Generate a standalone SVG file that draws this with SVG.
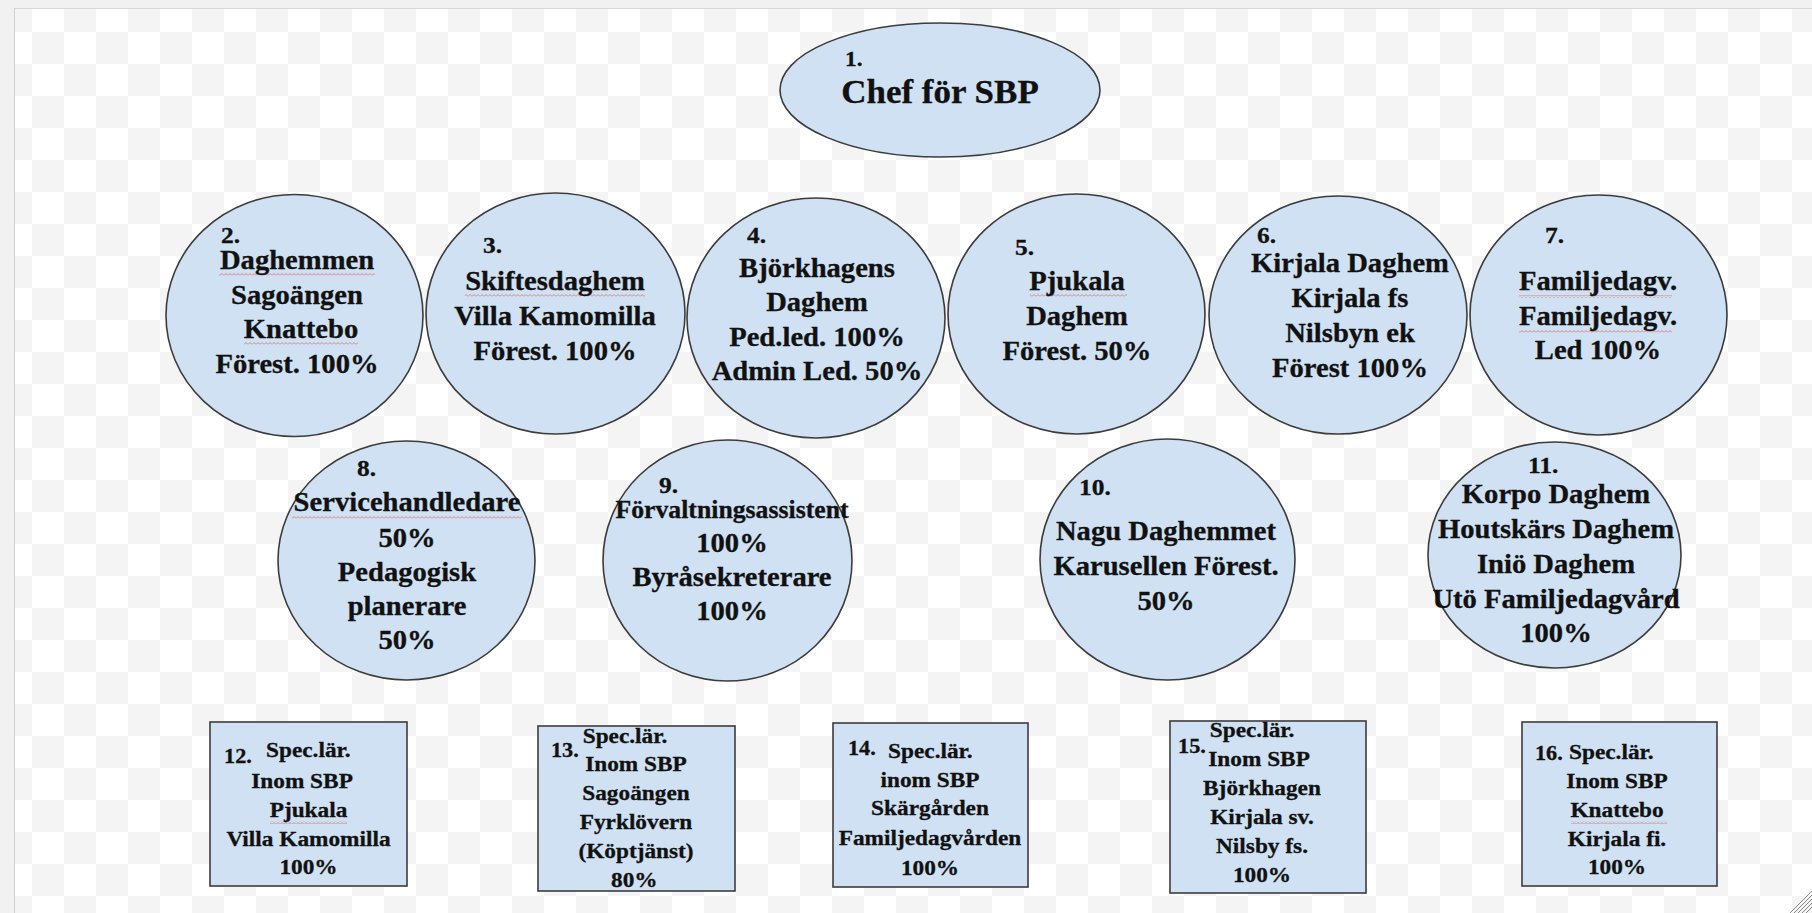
<svg xmlns="http://www.w3.org/2000/svg" width="1812" height="913" viewBox="0 0 1812 913">
<style>
.node{fill:#cfe1f2;stroke:#3c3c3c;stroke-width:1.6}
.t{font-family:"Liberation Serif","Times New Roman",serif;font-weight:bold;fill:#111;stroke:#111;stroke-width:0.3;text-anchor:middle}
.s{text-anchor:start}
.c{font-size:27px}
.b{font-size:22px}
.n{font-size:24px}
.bn{font-size:21px}
.sq{fill:url(#squig)}
</style>
<defs>
<pattern id="checker" width="64" height="64" patternUnits="userSpaceOnUse">
<rect width="64" height="64" fill="#ffffff"/>
<rect width="32" height="32" fill="#f4f4f4"/>
<rect x="32" y="32" width="32" height="32" fill="#f4f4f4"/>
</pattern>
<pattern id="squig" width="4" height="3" patternUnits="userSpaceOnUse">
<path d="M0 2.5 L2 0.5 L4 2.5" fill="none" stroke="#e06a6a" stroke-width="0.8"/>
</pattern>
</defs>
<rect width="1812" height="913" fill="url(#checker)"/>
<rect x="0" y="0" width="1812" height="8" fill="#f1f1f1"/>
<line x1="14" y1="8.5" x2="1812" y2="8.5" stroke="#d9d9d9"/>
<rect x="0" y="0" width="14" height="913" fill="#f1f1f1"/>
<line x1="14.5" y1="8" x2="14.5" y2="913" stroke="#cfcfcf"/>
<g stroke="#8a8a8a" stroke-width="1">
<line x1="1790" y1="913" x2="1812" y2="891"/>
<line x1="1794" y1="913" x2="1812" y2="895"/>
<line x1="1798" y1="913" x2="1812" y2="899"/>
<line x1="1802" y1="913" x2="1812" y2="903"/>
<line x1="1806" y1="913" x2="1812" y2="907"/>
</g>

<g id="connectors"></g>

<g id="n1">
<ellipse class="node" cx="940" cy="90" rx="160" ry="67"/>
<g transform="translate(940 0) scale(1.06 1)">
<text class="t s" x="-89.6" y="66" font-size="22">1.</text>
<text class="t" x="0" y="103" font-size="33">Chef för SBP</text>
</g>
</g>

<g id="n2">
<ellipse class="node" cx="294.5" cy="315.5" rx="128.5" ry="121"/>
<rect class="sq" x="219" y="273" width="156" height="3"/>
<rect class="sq" x="244" y="342" width="114" height="3"/>
<g transform="translate(297 0) scale(1.06 1)">
<text class="t s n" x="-71.7" y="243">2.</text>
<text class="t c" x="0" y="269">Daghemmen</text>
<text class="t c" x="0" y="304">Sagoängen</text>
<text class="t c" x="3.8" y="338">Knattebo</text>
<text class="t c" x="0" y="373">Förest. 100%</text>
</g>
</g>

<g id="n3">
<ellipse class="node" cx="555.5" cy="313.5" rx="129.5" ry="120.5"/>
<rect class="sq" x="465" y="294" width="180" height="3"/>
<g transform="translate(555 0) scale(1.06 1)">
<text class="t s n" x="-67.9" y="253">3.</text>
<text class="t c" x="0" y="290">Skiftesdaghem</text>
<text class="t c" x="0" y="325">Villa Kamomilla</text>
<text class="t c" x="0" y="360">Förest. 100%</text>
</g>
</g>

<g id="n4">
<ellipse class="node" cx="816" cy="318" rx="129" ry="120"/>
<g transform="translate(817 0) scale(1.06 1)">
<text class="t s n" x="-66" y="243">4.</text>
<text class="t c" x="0" y="277">Björkhagens</text>
<text class="t c" x="0" y="311.5">Daghem</text>
<text class="t c" x="0" y="346">Ped.led. 100%</text>
<text class="t c" x="0" y="380.5">Admin Led. 50%</text>
</g>
</g>

<g id="n5">
<ellipse class="node" cx="1076.5" cy="314" rx="128.5" ry="120"/>
<rect class="sq" x="1030" y="294" width="97" height="3"/>
<g transform="translate(1077 0) scale(1.06 1)">
<text class="t s n" x="-58.5" y="255">5.</text>
<text class="t c" x="0" y="290">Pjukala</text>
<text class="t c" x="0" y="325">Daghem</text>
<text class="t c" x="0" y="360">Förest. 50%</text>
</g>
</g>

<g id="n6">
<ellipse class="node" cx="1338" cy="315" rx="129" ry="119"/>
<g transform="translate(1350 0) scale(1.06 1)">
<text class="t s n" x="-87.7" y="243">6.</text>
<text class="t c" x="0" y="272">Kirjala Daghem</text>
<text class="t c" x="0" y="307">Kirjala fs</text>
<text class="t c" x="0" y="342">Nilsbyn ek</text>
<text class="t c" x="0" y="377">Förest 100%</text>
</g>
</g>

<g id="n7">
<ellipse class="node" cx="1598.5" cy="315" rx="128.5" ry="120"/>
<rect class="sq" x="1519" y="295" width="153" height="3"/>
<rect class="sq" x="1519" y="330" width="153" height="3"/>
<g transform="translate(1598 0) scale(1.06 1)">
<text class="t s n" x="-50" y="243">7.</text>
<text class="t c" x="0" y="290">Familjedagv.</text>
<text class="t c" x="0" y="325">Familjedagv.</text>
<text class="t c" x="0" y="359">Led 100%</text>
</g>
</g>

<g id="n8">
<ellipse class="node" cx="406.5" cy="560.5" rx="128.5" ry="119.5"/>
<rect class="sq" x="292" y="516" width="230" height="3"/>
<g transform="translate(407 0) scale(1.06 1)">
<text class="t s n" x="-47.2" y="476">8.</text>
<text class="t c" x="0" y="511">Servicehandledare</text>
<text class="t c" x="0" y="547">50%</text>
<text class="t c" x="0" y="581">Pedagogisk</text>
<text class="t c" x="0" y="615">planerare</text>
<text class="t c" x="0" y="649">50%</text>
</g>
</g>

<g id="n9">
<ellipse class="node" cx="727.5" cy="560.5" rx="124.5" ry="120.5"/>
<g transform="translate(732 0) scale(1.06 1)">
<text class="t s n" x="-68.9" y="493">9.</text>
<text class="t" x="0" y="518" font-size="24.3">Förvaltningsassistent</text>
<text class="t c" x="0" y="552">100%</text>
<text class="t c" x="0" y="586">Byråsekreterare</text>
<text class="t c" x="0" y="620">100%</text>
</g>
</g>

<g id="n10">
<ellipse class="node" cx="1167.5" cy="559.5" rx="127.5" ry="120.5"/>
<g transform="translate(1166 0) scale(1.06 1)">
<text class="t s n" x="-82" y="495">10.</text>
<text class="t c" x="0" y="540">Nagu Daghemmet</text>
<text class="t c" x="0" y="575">Karusellen Förest.</text>
<text class="t c" x="0" y="610">50%</text>
</g>
</g>

<g id="n11">
<ellipse class="node" cx="1554.5" cy="555" rx="126.5" ry="113"/>
<g transform="translate(1556 0) scale(1.06 1)">
<text class="t s n" x="-26.4" y="473">11.</text>
<text class="t c" x="0" y="503">Korpo Daghem</text>
<text class="t c" x="0" y="538">Houtskärs Daghem</text>
<text class="t c" x="0" y="573">Iniö Daghem</text>
<text class="t c" x="0" y="608">Utö Familjedagvård</text>
<text class="t c" x="0" y="642">100%</text>
</g>
</g>

<g id="n12">
<rect class="node" x="210" y="722" width="197" height="164"/>
<rect class="sq" x="270" y="821" width="77" height="3"/>
<g transform="translate(308.5 0) scale(1.06 1)">
<text class="t s bn" x="-79.7" y="763">12.</text>
<text class="t s b" x="-40.1" y="757">Spec.lär.</text>
<text class="t b" x="-6.1" y="788">Inom SBP</text>
<text class="t b" x="0" y="817">Pjukala</text>
<text class="t b" x="0" y="846">Villa Kamomilla</text>
<text class="t b" x="0" y="874">100%</text>
</g>
</g>

<g id="n13">
<rect class="node" x="538" y="726" width="197" height="165"/>
<g transform="translate(636 0) scale(1.06 1)">
<text class="t b" x="-10.4" y="743">Spec.lär.</text>
<text class="t s bn" x="-80.2" y="757">13.</text>
<text class="t b" x="0" y="771">Inom SBP</text>
<text class="t b" x="0" y="800">Sagoängen</text>
<text class="t b" x="0" y="829">Fyrklövern</text>
<text class="t b" x="0" y="858">(Köptjänst)</text>
<text class="t b" x="-1.6" y="887">80%</text>
</g>
</g>

<g id="n14">
<rect class="node" x="833" y="723" width="195" height="164"/>
<g transform="translate(930 0) scale(1.06 1)">
<text class="t s bn" x="-77.4" y="755">14.</text>
<text class="t s b" x="-39.6" y="758">Spec.lär.</text>
<text class="t b" x="0" y="787">inom SBP</text>
<text class="t b" x="0" y="815">Skärgården</text>
<text class="t b" x="0" y="845">Familjedagvården</text>
<text class="t b" x="0" y="875">100%</text>
</g>
</g>

<g id="n15">
<rect class="node" x="1170" y="721" width="196" height="172"/>
<g transform="translate(1262 0) scale(1.06 1)">
<text class="t b" x="-9.4" y="737">Spec.lär.</text>
<text class="t s bn" x="-79.2" y="753">15.</text>
<text class="t b" x="-2.8" y="766">Inom SBP</text>
<text class="t b" x="0" y="795">Björkhagen</text>
<text class="t b" x="0" y="824">Kirjala sv.</text>
<text class="t b" x="0" y="853">Nilsby fs.</text>
<text class="t b" x="0" y="882">100%</text>
</g>
</g>

<g id="n16">
<rect class="node" x="1522" y="722" width="195" height="164"/>
<rect class="sq" x="1571" y="821" width="96" height="3"/>
<g transform="translate(1617 0) scale(1.06 1)">
<text class="t s bn" x="-77.4" y="760">16.</text>
<text class="t s b" x="-45.3" y="759">Spec.lär.</text>
<text class="t b" x="0" y="788">Inom SBP</text>
<text class="t b" x="0" y="817">Knattebo</text>
<text class="t b" x="0" y="846">Kirjala fi.</text>
<text class="t b" x="0" y="874">100%</text>
</g>
</g>
</svg>
